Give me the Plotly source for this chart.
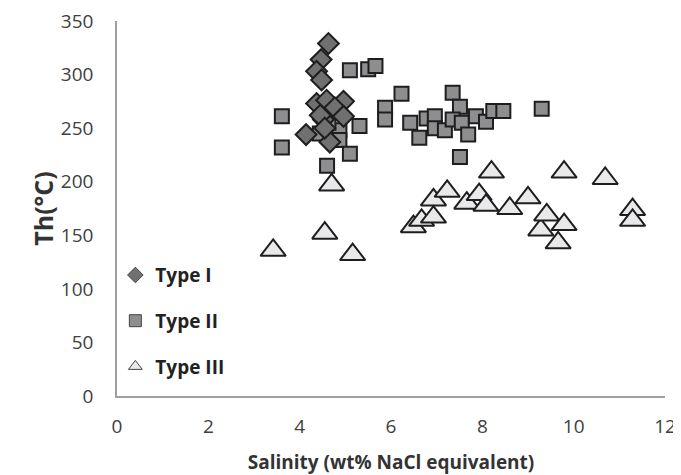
import plotly.graph_objects as go

# Type I (diamonds)
type1_salinity = [4.63, 4.47, 4.37, 4.48, 4.37, 4.59, 4.96, 4.77, 4.96, 4.52, 4.14, 4.66, 4.45, 4.55]
type1_th = [329, 314, 303, 295, 273, 276, 275, 269, 261, 258, 244, 237, 262, 250]

# Type II (squares)
type2_salinity = [3.61, 3.61, 5.10, 5.50, 5.66, 5.87, 5.87, 6.23, 4.44, 4.87, 5.31, 4.87, 5.10, 4.60,
                  4.63, 7.35, 7.51, 6.42, 6.78, 6.96, 6.96, 6.62, 7.18, 7.35, 7.55, 7.86, 8.08,
                  7.69, 8.24, 8.46, 9.30, 7.51]
type2_th = [261, 232, 304, 305, 308, 269, 258, 282, 245, 248, 252, 239, 226, 215,
            255, 283, 270, 255, 259, 261, 250, 241, 248, 258, 255, 261, 256,
            244, 266, 266, 268, 223]

# Type III (triangles)
type3_salinity = [3.42, 4.55, 4.70, 5.16, 6.49, 6.67, 6.93, 6.93, 7.23, 7.66, 7.93, 8.08, 8.20,
                  8.60, 9.00, 9.28, 9.41, 9.66, 9.79, 9.79, 10.69, 11.29, 11.29]
type3_th = [136, 152, 197, 132, 158, 164, 183, 167, 191, 180, 188, 178, 209,
            175, 185, 155, 169, 143, 160, 209, 203, 174, 164]

series_names = ["Type I", "Type II", "Type III"]

outline = dict(color="#1e1e1e", width=2)
fig = go.Figure()
fig.add_trace(go.Scatter(x=type2_salinity, y=type2_th, mode="markers", showlegend=False,
                         marker=dict(symbol="square", size=14, color="#8e8e90", line=outline)))
fig.add_trace(go.Scatter(x=type1_salinity, y=type1_th, mode="markers", showlegend=False,
                         marker=dict(symbol="diamond", size=16, color="#707070", line=outline)))
fig.add_trace(go.Scatter(x=type3_salinity, y=type3_th, mode="markers", showlegend=False,
                         marker=dict(symbol="triangle-up", size=22, color="#e9e9eb", line=outline)))

# legend entries with small markers
leg_styles = [("diamond", "#707070"), ("square", "#8e8e90"), ("triangle-up", "#e9e9eb")]
for name, (sym, col) in zip(series_names, leg_styles):
    fig.add_trace(go.Scatter(x=[None], y=[None], mode="markers", name=name, legendgroup=name,
                             marker=dict(symbol=sym, size=12, color=col,
                                         line=dict(color="#444", width=1))))

# page has an 8px body margin, so the figure is offset by 8px
fig.update_layout(
    width=673, height=467,
    margin=dict(l=109, r=16, t=13, b=79),
    plot_bgcolor="white", paper_bgcolor="white",
    font=dict(family="Open Sans", color="#404040"),
    legend=dict(x=-0.003, y=0.373, xanchor="left", yanchor="top",
                bgcolor="rgba(0,0,0,0)", tracegroupgap=18,
                font=dict(family="Open Sans", size=19, color="#222", weight="bold"),
                itemwidth=30),
    xaxis=dict(range=[0, 12], dtick=2, showgrid=False, zeroline=False, automargin=False,
               showline=True, linecolor="#a0a0a0", linewidth=1.5, ticklabeloverflow="allow",
               tickfont=dict(size=19, color="#404040"), ticklabelstandoff=12,
               title=dict(text="Salinity (wt% NaCl equivalent)", standoff=18,
                          font=dict(size=19, color="#333", weight="bold"))),
    yaxis=dict(range=[0, 350], dtick=50, showgrid=False, zeroline=False, automargin=False,
               showline=True, linecolor="#a0a0a0", linewidth=1.5, ticklabeloverflow="allow",
               tickfont=dict(size=19, color="#404040"), ticklabelstandoff=18,
               title=dict(text="Th(°C)", standoff=0,
                          font=dict(size=25, color="#333", weight="bold"))),
)

fig.write_html("out.html")
